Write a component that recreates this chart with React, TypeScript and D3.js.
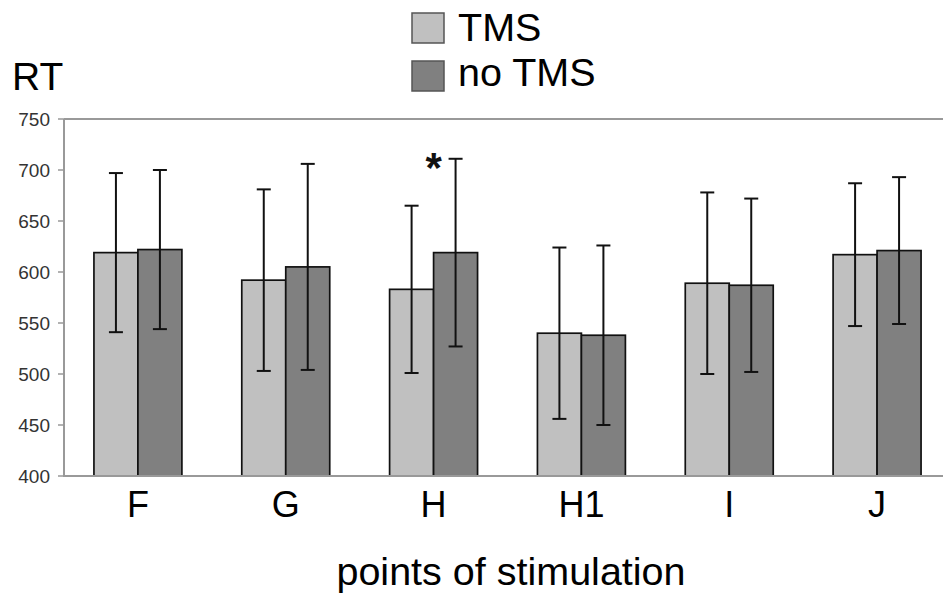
import React, { useEffect, useRef } from 'react';
import * as d3 from 'd3';

const categories = ['F', 'G', 'H', 'H1', 'I', 'J'];
const seriesNames = ['TMS', 'no TMS'];
const tmsMean = [619, 592, 583, 540, 589, 617];
const noTmsMean = [622, 605, 619, 538, 587, 621];
const tmsSd = [78, 89, 82, 84, 89, 70];
const noTmsSd = [78, 101, 92, 88, 85, 72];
const yTicks = [400, 450, 500, 550, 600, 650, 700, 750];
const starredCategory = 'H';

const FONT = '"Liberation Sans", Arial, Helvetica, sans-serif';

const App = () => {
  const svgRef = useRef<SVGSVGElement>(null);

  useEffect(() => {
    const width = 943;
    const height = 594;
    const svg = d3.select(svgRef.current);
    svg.selectAll('*').remove();
    svg.attr('width', width).attr('height', height);

    const fills = ['#c0c0c0', '#808080'];
    const means = [tmsMean, noTmsMean];
    const sds = [tmsSd, noTmsSd];

    const y = d3.scaleLinear().domain([400, 750]).range([476, 119]);
    const x0 = d3
      .scaleBand()
      .domain(categories)
      .range([64, 951])
      .paddingInner(0.405)
      .paddingOuter(0.2025);
    const x1 = d3.scaleBand().domain(seriesNames).range([0, x0.bandwidth()]);

    // top line
    svg.append('line')
      .attr('x1', 64).attr('x2', width)
      .attr('y1', y(750)).attr('y2', y(750))
      .attr('stroke', '#999').attr('stroke-width', 2);

    const groups = svg.selectAll('g.cat')
      .data(categories)
      .enter().append('g')
      .attr('class', 'cat')
      .attr('transform', d => `translate(${x0(d)},0)`);

    seriesNames.forEach((s, si) => {
      groups.append('rect')
        .attr('x', x1(s)!)
        .attr('y', (_, i) => y(means[si][i]))
        .attr('width', x1.bandwidth())
        .attr('height', (_, i) => y(400) - y(means[si][i]))
        .attr('fill', fills[si])
        .attr('stroke', '#111')
        .attr('stroke-width', 1.7);
    });

    seriesNames.forEach((s, si) => {
      const cx = x1(s)! + x1.bandwidth() / 2;
      const hi = (i: number) => y(means[si][i] + sds[si][i]);
      const lo = (i: number) => y(means[si][i] - sds[si][i]);
      groups.append('line')
        .attr('x1', cx).attr('x2', cx)
        .attr('y1', (_, i) => hi(i)).attr('y2', (_, i) => lo(i))
        .attr('stroke', '#111').attr('stroke-width', 2);
      groups.append('line')
        .attr('x1', cx - 7).attr('x2', cx + 7)
        .attr('y1', (_, i) => hi(i)).attr('y2', (_, i) => hi(i))
        .attr('stroke', '#111').attr('stroke-width', 2);
      groups.append('line')
        .attr('x1', cx - 7).attr('x2', cx + 7)
        .attr('y1', (_, i) => lo(i)).attr('y2', (_, i) => lo(i))
        .attr('stroke', '#111').attr('stroke-width', 2);
    });

    // significance mark
    const si = categories.indexOf(starredCategory);
    svg.append('text')
      .attr('x', x0(starredCategory)! + x1('no TMS')!)
      .attr('y', y(noTmsMean[si] + noTmsSd[si]) + 23)
      .attr('text-anchor', 'middle')
      .attr('font-family', FONT)
      .attr('font-size', 42)
      .attr('font-weight', 'bold')
      .attr('fill', '#111')
      .text('*');

    // axis lines
    svg.append('line')
      .attr('x1', 64).attr('x2', 64)
      .attr('y1', y(750)).attr('y2', y(400) + 1)
      .attr('stroke', '#999').attr('stroke-width', 2);
    svg.append('line')
      .attr('x1', 64).attr('x2', width)
      .attr('y1', y(400)).attr('y2', y(400))
      .attr('stroke', '#999').attr('stroke-width', 2);

    // y ticks
    const yg = svg.append('g');
    yg.selectAll('line')
      .data(yTicks)
      .enter().append('line')
      .attr('x1', 58).attr('x2', 64)
      .attr('y1', d => y(d)).attr('y2', d => y(d))
      .attr('stroke', '#999').attr('stroke-width', 1.5);
    yg.selectAll('text')
      .data(yTicks)
      .enter().append('text')
      .attr('x', 50)
      .attr('y', d => y(d) + 6.5)
      .attr('text-anchor', 'end')
      .attr('font-family', FONT)
      .attr('font-size', 19)
      .attr('fill', '#333')
      .text(d => d);

    // category labels
    svg.append('g').selectAll('text')
      .data(categories)
      .enter().append('text')
      .attr('x', d => x0(d)! + x0.bandwidth() / 2)
      .attr('y', 517)
      .attr('text-anchor', 'middle')
      .attr('font-family', FONT)
      .attr('font-size', 36)
      .attr('fill', '#000')
      .text(d => d);

    svg.append('text')
      .attr('x', 511)
      .attr('y', 585)
      .attr('text-anchor', 'middle')
      .attr('font-family', FONT)
      .attr('font-size', 39.5)
      .attr('fill', '#000')
      .text('points of stimulation');

    svg.append('text')
      .attr('x', 12)
      .attr('y', 90)
      .attr('font-family', FONT)
      .attr('font-size', 39)
      .attr('fill', '#000')
      .text('RT');

    // legend
    const legend = svg.append('g');
    seriesNames.forEach((s, i) => {
      legend.append('rect')
        .attr('x', 412).attr('y', 13 + i * 48)
        .attr('width', 32).attr('height', 30)
        .attr('fill', fills[i])
        .attr('stroke', '#555').attr('stroke-width', 1.5);
      legend.append('text')
        .attr('x', 458).attr('y', 41 + i * 45)
        .attr('font-family', FONT)
        .attr('font-size', 39.5)
        .attr('fill', '#000')
        .text(s);
    });
  });

  return (
    <div id="chartArea" style={{ position: 'absolute', left: 0, top: 0 }}>
      <svg ref={svgRef}></svg>
    </div>
  );
};

export default App;
